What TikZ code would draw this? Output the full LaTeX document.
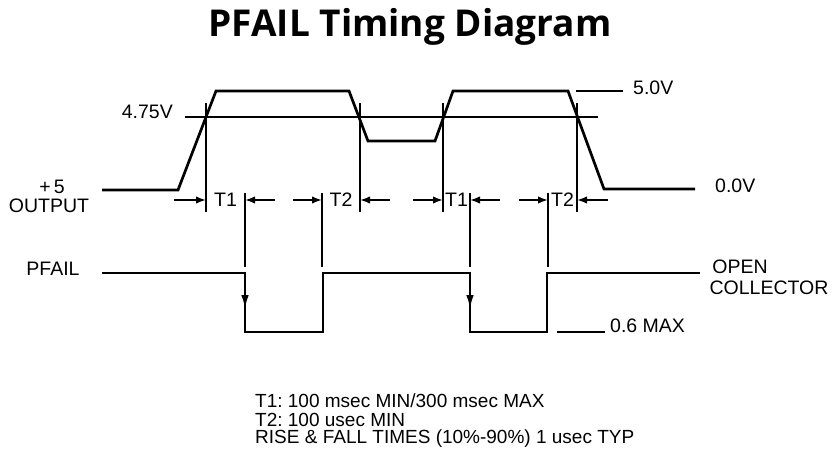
\documentclass[tikz,border=0pt]{standalone}
\usepackage{fontspec}
\setmainfont{Liberation Sans}
\newfontfamily\titlefont{Open Sans}
\usetikzlibrary{arrows.meta}
\frenchspacing
\begin{document}
\begin{tikzpicture}[x=1pt,y=-1pt,
  wave/.style={line width=2.7pt, line join=miter},
  marker/.style={line width=2.3pt},
  dimarrow/.style={line width=1.8pt, -{Latex[length=10pt,width=7.5pt]}},
  downarrow/.style={line width=2.7pt, -{Latex[length=15pt,width=7.5pt]}},
  lbl/.style={font=\fontsize{19.5}{21}\selectfont, inner sep=0pt},
  note/.style={font=\fontsize{19}{21}\selectfont, inner sep=0pt, anchor=west}]
\useasboundingbox (0,0) rectangle (833,453);
% title
\node[font=\titlefont\bfseries\fontsize{37}{40}\selectfont, inner sep=0pt] (title) at (410,27) {PFAIL Timing Diagram};
% +5 output waveform
\draw[wave] (102,190) -- (178,190) -- (216,91) -- (349,91) -- (368,141) -- (435,141) -- (453,91) -- (568,91) -- (604,189) -- (695,189);
\draw[marker] (185,117) -- (598,117);
\draw[marker] (576,91) -- (623,91);
% markers
\foreach \x in {206,360,443,577} \draw[marker] (\x,103) -- (\x,212);
\foreach \x in {245,322,470,548} \draw[marker] (\x,193) -- (\x,267);
% dimension arrows
\coordinate (a1) at (206,200); \coordinate (a2) at (245,200);
\coordinate (a3) at (322,200); \coordinate (a4) at (360,200);
\coordinate (a5) at (443,200); \coordinate (a6) at (470,200);
\coordinate (a7) at (548,200); \coordinate (a8) at (577,200);
\draw[dimarrow] (174,200) -- (a1);
\draw[dimarrow] (275,200) -- (a2);
\draw[dimarrow] (293,200) -- (a3);
\draw[dimarrow] (390,200) -- (a4);
\draw[dimarrow] (413,200) -- (a5);
\draw[dimarrow] (500,200) -- (a6);
\draw[dimarrow] (519,200) -- (a7);
\draw[dimarrow] (608,200) -- (a8);
\node[lbl] (t1a) at (225.5,200) {T1};
\node[lbl] (t2a) at (341,200) {T2};
\node[lbl] (t1b) at (456.5,200) {T1};
\node[lbl] (t2b) at (562.5,200) {T2};
% PFAIL waveform
\draw[wave] (102,273) -- (245,273) -- (245,332) -- (323,332) -- (323,273) -- (470,273) -- (470,332) -- (547,332) -- (547,273) -- (700,273);
\draw[downarrow] (245,273) -- (245,310);
\draw[downarrow] (470,273) -- (470,310);
\draw[marker] (557,332) -- (605,332);
% labels
\node[lbl, anchor=east] (v475) at (173,112) {4.75V};
\node[lbl, anchor=west] (v50) at (633,88) {5.0V};
\node[lbl, anchor=west] (v00) at (715,186) {0.0V};
\node[lbl] (p5) at (52,187) {+\,5};
\node[lbl] (out) at (49,206) {OUTPUT};
\node[lbl] (pf) at (53,269) {PFAIL};
\node[lbl] (open) at (740,267) {OPEN};
\node[lbl] (coll) at (769,288) {COLLECTOR};
\node[lbl, anchor=west] (max) at (610,326) {0.6 MAX};
\node[note] (n1) at (255,401) {T1: 100 msec MIN/300 msec MAX};
\node[note] (n2) at (255,420) {T2: 100 usec MIN};
\node[note] (n3) at (255,439) {RISE \& FALL TIMES (10\%-90\%) 1 usec TYP};
\end{tikzpicture}
\end{document}
